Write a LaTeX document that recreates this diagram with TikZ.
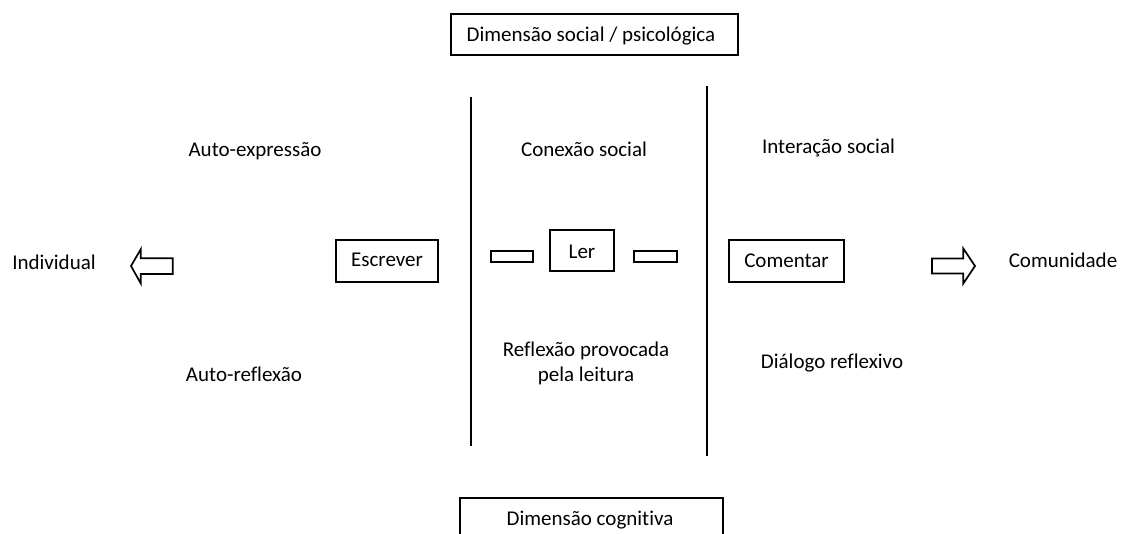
\documentclass[tikz,border=0pt]{standalone}
\usepackage{fontspec}
\setmainfont{Carlito}[Ligatures={NoCommon}]
\begin{document}
\begin{tikzpicture}[x=1pt,y=-1pt,
  every node/.style={inner sep=0pt, outer sep=0pt},
  txt/.style={anchor=base, font=\fontsize{21}{25}\selectfont},
  boxed/.style={draw, line width=1.7pt, rectangle},
  divider/.style={line width=1.7pt},
  bigarrow/.style={draw, line width=1.7pt, fill=white, line join=miter}]
\clip (0,0) rectangle (1121,533);
\useasboundingbox (0,0) rectangle (1121,533);
% dimension boxes
\node[boxed, minimum width=287, minimum height=41] (topbox) at (594.5,34.5) {};
\node[txt] (toptxt) at (591,41.5) {Dimensão social / psicológica};
\node[boxed, minimum width=263, minimum height=44] (botbox) at (591.5,520) {};
\node[txt] (bottxt) at (590,525) {Dimensão cognitiva};
% dividers
\coordinate (l1) at (470.7,96.7);
\coordinate (l2) at (470.7,445.7);
\coordinate (r1) at (706.7,86);
\coordinate (r2) at (706.7,456);
\draw[divider] (l1) -- (l2);
\draw[divider] (r1) -- (r2);
% action boxes
\node[boxed, minimum width=102, minimum height=42] (escrever) at (387,261) {};
\node[txt] at (387,266.7) {Escrever};
\node[boxed, minimum width=64, minimum height=41] (ler) at (582,250.5) {};
\node[txt] at (582,258.3) {Ler};
\node[boxed, minimum width=115, minimum height=42] (comentar) at (786.5,261) {};
\node[txt] at (786.5,267.3) {Comentar};
\node[boxed, minimum width=42, minimum height=11] (sl) at (512,256.5) {};
\node[boxed, minimum width=43, minimum height=11] (sr) at (655.5,256.5) {};
% block arrows
\draw[bigarrow] (172.7,258.3) -- (140.7,258.3) -- (140.7,249.3) -- (131,266) -- (140.7,283.3) -- (140.7,274) -- (172.7,274) -- cycle;
\draw[bigarrow] (932,258.5) -- (963.3,258.5) -- (963.3,248.5) -- (975,266) -- (963.3,283.5) -- (963.3,273.5) -- (932,273.5) -- cycle;
% side labels
\node[txt] (ind) at (54,269) {Individual};
\node[txt] (com) at (1063,267.3) {Comunidade};
% quadrant labels
\node[txt] (ae) at (255,156) {Auto-expressão};
\node[txt] (ar) at (244,381.7) {Auto-reflexão};
\node[txt] (cs) at (584,156) {Conexão social};
\node[txt] (rp1) at (586,356.7) {Reflexão provocada};
\node[txt] (rp2) at (586,381.7) {pela leitura};
\node[txt] (is) at (828.5,153.3) {Interação social};
\node[txt] (dr) at (832,368.3) {Diálogo reflexivo};
\end{tikzpicture}
\end{document}
